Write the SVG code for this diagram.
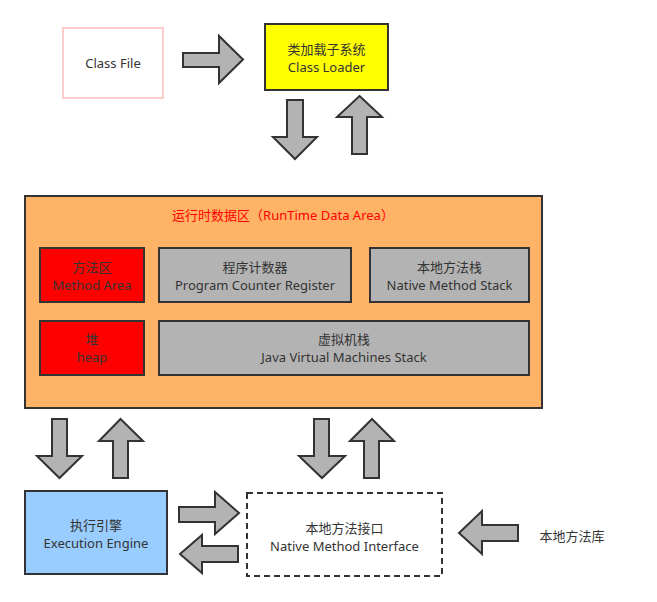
<svg xmlns="http://www.w3.org/2000/svg" width="657" height="602" viewBox="0 0 657 602">
<style>
text{font-family:"Noto Sans","Noto Sans CJK SC",sans-serif;font-size:13px;fill:#333;text-anchor:middle;}
.box{stroke:#333;stroke-width:2;}
.arr{fill:#b3b3b3;stroke:#333;stroke-width:2;stroke-linejoin:miter;}
</style>
<rect width="657" height="602" fill="#fff"/>
<g id="class-file">
<rect x="63" y="28" width="100" height="70" fill="#fff" stroke="#ffcccc" stroke-width="2"/>
<text x="113" y="68">Class File</text>
</g>
<g id="class-loader">
<rect class="box" x="265" y="24" width="123" height="66" fill="#ffff00"/>
<text x="326.5" y="54">类加载子系统</text>
<text x="326.5" y="72">Class Loader</text>
</g>
<g id="runtime-data-area">
<rect class="box" x="25" y="196" width="517" height="212" fill="#ffb366"/>
<text x="283" y="220" style="fill:#ff0000">运行时数据区（RunTime Data Area）</text>
</g>
<g id="method-area">
<rect class="box" x="40" y="248" width="104" height="54" fill="#ff0000"/>
<text x="92" y="272">方法区</text>
<text x="92" y="290">Method Area</text>
</g>
<g id="program-counter">
<rect class="box" x="159" y="248" width="192" height="54" fill="#b3b3b3"/>
<text x="255" y="272">程序计数器</text>
<text x="255" y="290">Program Counter Register</text>
</g>
<g id="native-method-stack">
<rect class="box" x="370" y="248" width="159" height="54" fill="#b3b3b3"/>
<text x="449.5" y="272">本地方法栈</text>
<text x="449.5" y="290">Native Method Stack</text>
</g>
<g id="heap">
<rect class="box" x="40" y="321" width="104" height="54" fill="#ff0000"/>
<text x="92" y="344">堆</text>
<text x="92" y="362">heap</text>
</g>
<g id="jvm-stack">
<rect class="box" x="159" y="321" width="370" height="54" fill="#b3b3b3"/>
<text x="344" y="344">虚拟机栈</text>
<text x="344" y="362">Java Virtual Machines Stack</text>
</g>
<g id="execution-engine">
<rect class="box" x="25" y="491" width="142" height="83" fill="#99ccff"/>
<text x="96" y="530">执行引擎</text>
<text x="96" y="548">Execution Engine</text>
</g>
<g id="native-method-interface">
<rect x="247" y="493" width="195" height="83" fill="#fff" stroke="#333" stroke-width="2" stroke-dasharray="6,4"/>
<text x="344.5" y="533">本地方法接口</text>
<text x="344.5" y="551">Native Method Interface</text>
</g>
<g id="native-library">
<text x="572" y="541">本地方法库</text>
</g>
<g id="connectors">
<polygon class="arr" points="183,53 219,53 219,36 243,59.5 219,83 219,67 183,67"/>
<polygon class="arr" points="287,100 303,100 303,137 317,137 295,159 273,137 287,137"/>
<polygon class="arr" points="359.5,96 382,117 367,117 367,154 352,154 352,117 337,117"/>
<polygon class="arr" points="52,419 67,419 67,456 82,456 59.5,478 37,456 52,456"/>
<polygon class="arr" points="120.5,419 143,441 128,441 128,478 113,478 113,441 99,441"/>
<polygon class="arr" points="314,419 329,419 329,456 345,456 322,478 299,456 314,456"/>
<polygon class="arr" points="372,419 394,441 379,441 379,478 364,478 364,441 350,441"/>
<polygon class="arr" points="179,507 215,507 215,492 239,513 215,534 215,522 179,522"/>
<polygon class="arr" points="180,554 202,535 202,546 238,546 238,562 202,562 202,573"/>
<polygon class="arr" points="459,533 482,511 482,525 518,525 518,541 482,541 482,554"/>
</g>
</svg>
